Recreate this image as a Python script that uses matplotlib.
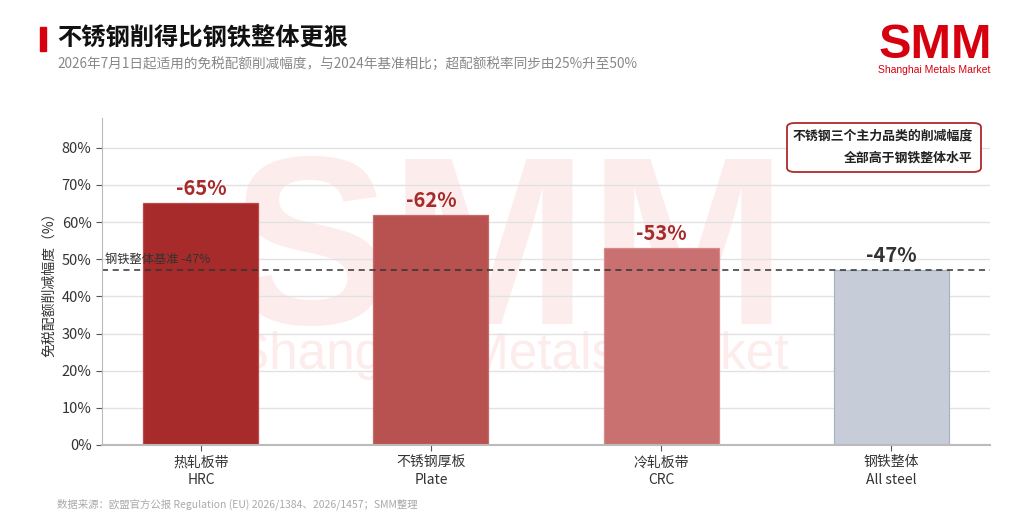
import matplotlib
matplotlib.use('Agg')
import matplotlib.pyplot as plt
from matplotlib.patches import Rectangle, FancyBboxPatch

plt.rcParams['font.family'] = ['Noto Sans CJK SC', 'DejaVu Sans']

# Data
cats_cn = ['热轧板带', '不锈钢厚板', '冷轧板带', '钢铁整体']
cats_en = ['HRC', 'Plate', 'CRC', 'All steel']
cuts = [65, 62, 53, 47]
baseline = 47
bar_colors = ['#A62B2A', '#B85250', '#C97070', '#C6CDD9']
edge_colors = ['#BE4A48', '#C86A68', '#D88888', '#A9B3C5']
label_colors = ['#A62B2A', '#A62B2A', '#A62B2A', '#333333']

fig = plt.figure(figsize=(10.24, 5.27), dpi=100)
ax = fig.add_axes([102 / 1024, 1 - 445 / 527, (990 - 102) / 1024, (445 - 118) / 527])
ax.patch.set_alpha(0)

# watermark
ax.text(0.497, 1 - 262 / 527, 'SMM', transform=fig.transFigure, ha='center', va='center',
        fontsize=172, fontweight='bold', family='Liberation Sans', color='#FCECEC',
        zorder=0.1, clip_on=False)
ax.text(0.5, 1 - 356 / 527, 'Shanghai Metals Market', transform=fig.transFigure,
        ha='center', va='center', fontsize=37, family='Liberation Sans',
        color='#FCECEC', zorder=0.1, clip_on=False)

x = range(len(cuts))
ax.bar(x, cuts, width=0.5, color=bar_colors, edgecolor=edge_colors, linewidth=0.9, zorder=2)

for i, v in enumerate(cuts):
    ax.text(i, v + 1.1, f'-{v}%', ha='center', va='bottom', fontsize=14.5,
            fontweight='heavy', color=label_colors[i], zorder=3)

ax.axhline(baseline, color='#333333', linestyle=(0, (4, 3)), linewidth=1.1, zorder=2.5)
ax.text(-0.415, 50, f'钢铁整体基准 -{baseline}%', ha='left', va='center', fontsize=8.8,
        color='#333333', zorder=3)

ax.set_xlim(-0.43, 3.43)
ax.set_ylim(0, 88)
ax.set_yticks(range(0, 81, 10))
ax.set_yticklabels([f'{t}%' for t in range(0, 81, 10)], fontsize=10.5, color='#333333')
ax.set_xticks(list(x))
ax.set_xticklabels([f'{c}\n{e}' for c, e in zip(cats_cn, cats_en)], fontsize=10,
                   color='#333333', linespacing=1.3)
ax.tick_params(axis='both', colors='#555555', length=4, width=0.8)
ax.tick_params(axis='x', labelcolor='#333333')
ax.tick_params(axis='y', labelcolor='#333333')
ax.set_ylabel('免税配额削减幅度（%）', fontsize=10, color='#333333', labelpad=4)

ax.set_axisbelow(True)
ax.yaxis.grid(True, color='#E2E2E2', linewidth=1, zorder=0.5)
for s in ['top', 'right']:
    ax.spines[s].set_visible(False)
ax.spines['left'].set_color('#BBBBBB')
ax.spines['bottom'].set_color('#BBBBBB')
ax.spines['bottom'].set_linewidth(1.5)

# annotation box
box = FancyBboxPatch((787 / 1024, 1 - 172 / 527), (981 - 787) / 1024, (172 - 123) / 527,
                     boxstyle='round,pad=0,rounding_size=0.008', transform=fig.transFigure,
                     facecolor='white', edgecolor='#B02A2A', linewidth=1.3, zorder=4)
fig.patches.append(box)
fig.text(973 / 1024, 1 - 136 / 527, '不锈钢三个主力品类的削减幅度', ha='right', va='center',
         fontsize=9.3, fontweight='bold', color='#222222', zorder=5)
fig.text(973 / 1024, 1 - 158 / 527, '全部高于钢铁整体水平', ha='right', va='center',
         fontsize=9.3, fontweight='bold', color='#222222', zorder=5)

# header
fig.patches.append(Rectangle((40 / 1024, 1 - 51 / 527), 6 / 1024, 24 / 527,
                             transform=fig.transFigure, color='#D7000F'))
fig.text(57 / 1024, 1 - 39 / 527, '不锈钢削得比钢铁整体更狠', ha='left', va='center',
         fontsize=17.5, fontweight='bold', color='#111111')
fig.text(57 / 1024, 1 - 64 / 527,
         '2026年7月1日起适用的免税配额削减幅度，与2024年基准相比；超配额税率同步由25%升至50%',
         ha='left', va='center', fontsize=9.8, color='#888888')

# logo
fig.text(935 / 1024, 1 - 45 / 527, 'SMM', ha='center', va='center', fontsize=35,
         fontweight='bold', family='Liberation Sans', color='#D7000F')
fig.text(934 / 1024, 1 - 70 / 527, 'Shanghai Metals Market', ha='center', va='center',
         fontsize=7.5, family='Liberation Sans', color='#D7000F')

# footer
fig.text(57 / 1024, 1 - 504 / 527,
         '数据来源：欧盟官方公报 Regulation (EU) 2026/1384、2026/1457；SMM整理',
         ha='left', va='center', fontsize=7.5, color='#AAAAAA')

fig.savefig('out.png', dpi=100)
